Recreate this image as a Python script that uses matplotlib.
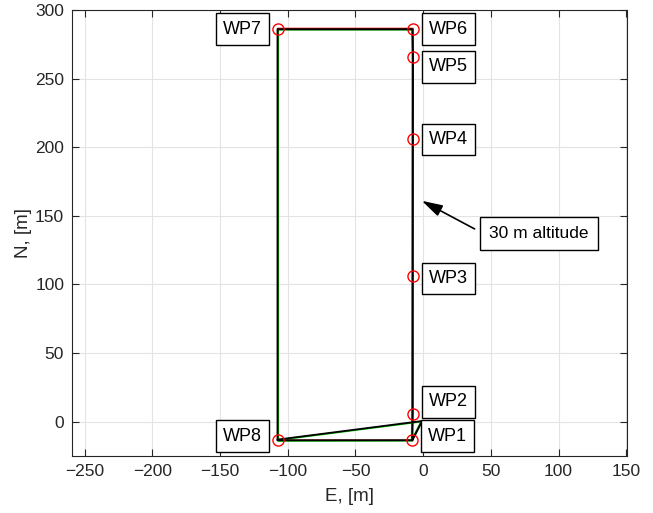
import matplotlib.pyplot as plt

plt.rcParams['font.family'] = ['Liberation Sans', 'DejaVu Sans']

# waypoints (E, N) in metres
wp_names = ['WP1', 'WP2', 'WP3', 'WP4', 'WP5', 'WP6', 'WP7', 'WP8']
wp_e = [-8, -7.5, -7.5, -7.5, -7.5, -7.5, -107.5, -107.5]
wp_n = [-13.5, 6, 106, 206, 266, 286, 286, -13.5]

# commanded / estimated / actual tracks
ref_e = [-1, -8, -7.5, -7.5, -7.5, -107.5, -107.5, -8]
ref_n = [0.5, -13, 6, 266, 286.6, 286.6, -13.5, -13.5]
est_e = [-1.5, -8.5, -8.2, -8, -8.2, -107, -107, -8.5]
est_n = [0, -13.5, 6, 266, 285.6, 285.6, -14, -13.8]
act_e = [-1, -8, -7.8, -7.5, -7.8, -107.5, -107.5, -8]
act_n = [0, -13.5, 6, 266, 286, 286, -13.5, -13.5]

# return leg from WP8 back to home
ret_e = [-107.5, -1]
ret_n = [-13, 0.5]

# label shifts (data units) so the boxes do not overlap
lbl_dy = [3, 8.5, -1.5, -0.5, -7.5, 0, 0, 3]

fig = plt.figure(figsize=(6.53, 5.13), dpi=100)
ax = fig.add_axes([0.111, 0.111, 0.849, 0.8695])

ax.plot(ref_e, ref_n, color='red', lw=1.0)
ax.plot(est_e, est_n, color='#00cc00', lw=1.2)
ax.plot(ret_e, [n - 0.4 for n in ret_n], color='#00cc00', lw=1.2)
ax.plot(act_e, act_n, color='black', lw=1.4)
ax.plot(ret_e, ret_n, color='black', lw=1.3)
ax.plot(wp_e, wp_n, 'o', mfc='none', mec='red', ms=8, mew=1.0)

box = dict(boxstyle='square,pad=0.4', fc='white', ec='black', lw=1)
for name, e, n, dy in zip(wp_names, wp_e, wp_n, lbl_dy):
    if e < -50:
        ax.text(e - 11.6, n + dy, name, ha='right', va='center',
                fontsize=13, bbox=box)
    else:
        ax.text(e + 11.8, n + dy, name, ha='left', va='center',
                fontsize=13, bbox=box)

ax.annotate('', xy=(-1, 161), xytext=(38, 140.5),
            arrowprops=dict(arrowstyle='-|>,head_length=0.7,head_width=0.2',
                            color='black', lw=1.2, mutation_scale=18,
                            shrinkA=0, shrinkB=0))
ax.text(49, 137, '30 m altitude', ha='left', va='center', fontsize=12.5,
        bbox=dict(boxstyle='square,pad=0.52', fc='white', ec='black', lw=1))

ax.set_xlim(-259, 150.5)
ax.set_ylim(-25, 300)
ax.set_xticks(range(-250, 151, 50))
ax.set_yticks(range(0, 301, 50))
ax.grid(True, color='#e3e3e3', lw=0.8)
ax.set_axisbelow(True)
ax.tick_params(direction='in', length=5, labelsize=12.5, colors='#262626',
               top=True, right=True, pad=6)
for s in ax.spines.values():
    s.set_color('#262626')
ax.set_xlabel('E, [m]', fontsize=13.5, color='#262626', labelpad=6)
ax.set_ylabel('N, [m]', fontsize=13.5, color='#262626', labelpad=2)

fig.savefig('out.png', dpi=100)
